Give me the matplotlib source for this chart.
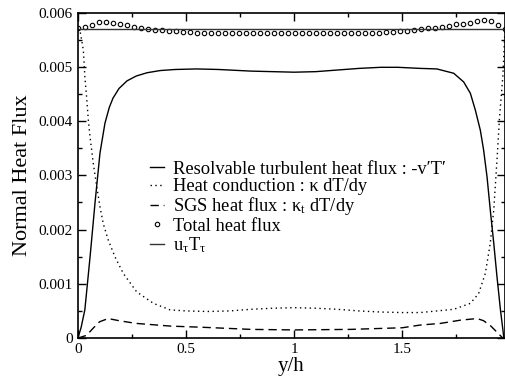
import numpy as np
import matplotlib
matplotlib.use("Agg")
import matplotlib.pyplot as plt
from matplotlib.ticker import MultipleLocator, FuncFormatter

plt.rcParams['font.family'] = ['Liberation Serif', 'DejaVu Serif']
plt.rcParams['mathtext.fontset'] = 'custom'
plt.rcParams['mathtext.rm'] = 'Liberation Serif'
plt.rcParams['mathtext.it'] = 'Liberation Serif:italic'

# resolvable turbulent heat flux -v'T'
res_y = [0.0, 0.015, 0.032, 0.056, 0.079, 0.102, 0.125, 0.145, 0.162, 0.19, 0.227,
         0.27, 0.32, 0.38, 0.45, 0.55, 0.65, 0.8, 0.9, 1.0, 1.1, 1.2, 1.3, 1.4,
         1.48, 1.583, 1.66, 1.738, 1.784, 1.815, 1.838, 1.861, 1.876, 1.892,
         1.907, 1.923, 1.938, 1.954, 1.97]
res_q = [0.0, 0.0002, 0.00052, 0.00149, 0.00249, 0.00341, 0.00396, 0.00425, 0.00442,
         0.0046, 0.00474, 0.00483, 0.00489, 0.00493, 0.00495, 0.00496, 0.00495,
         0.00492, 0.00491, 0.0049, 0.00491, 0.00494, 0.00497, 0.00499, 0.00499,
         0.00497, 0.00496, 0.00488, 0.00472, 0.00451, 0.0042, 0.00383, 0.00347,
         0.00297, 0.00236, 0.00175, 0.00113, 0.00052, 0.0]

# molecular heat conduction kappa dT/dy
cond_y = [0.0, 0.009, 0.025, 0.032, 0.04, 0.048, 0.056, 0.071, 0.087, 0.102, 0.117,
          0.14, 0.171, 0.21, 0.272, 0.349, 0.426, 0.5, 0.6, 0.7, 0.8, 0.9, 1.0,
          1.1, 1.2, 1.3, 1.4, 1.5, 1.583, 1.66, 1.738, 1.815, 1.853, 1.884, 1.907,
          1.923, 1.938, 1.95, 1.965, 1.975]
cond_q = [0.0057, 0.00568, 0.00531, 0.00482, 0.00445, 0.00402, 0.00371, 0.00322,
          0.00279, 0.00242, 0.00211, 0.00181, 0.0015, 0.00119, 0.00085, 0.00064,
          0.00052, 0.0005, 0.00049, 0.0005, 0.00053, 0.00055, 0.00056, 0.00055,
          0.00053, 0.0005, 0.00048, 0.00047, 0.00047, 0.0005, 0.00053, 0.00064,
          0.00082, 0.00119, 0.00175, 0.00236, 0.00328, 0.00408, 0.00482, 0.0057]

# SGS heat flux kappa_t dT/dy
sgs_y = [0.0, 0.04, 0.07, 0.1, 0.14, 0.19, 0.27, 0.43, 0.57, 0.8, 1.0, 1.26, 1.5,
         1.583, 1.676, 1.769, 1.846, 1.876, 1.91, 1.94, 1.965]
sgs_q = [0.0, 0.00005, 0.00018, 0.0003, 0.00036, 0.00032, 0.00027, 0.00022, 0.0002,
         0.00016, 0.00015, 0.00016, 0.00019, 0.00024, 0.00027, 0.00033, 0.00036,
         0.00032, 0.00022, 0.0001, 0.0]

# total heat flux on the grid points
total_q = [0.00571, 0.00573, 0.00577, 0.00582, 0.00582, 0.00581, 0.00579, 0.00577,
           0.00573, 0.00571, 0.0057, 0.00568, 0.00567, 0.00566, 0.00565, 0.00564,
           0.00564, 0.00563, 0.00563, 0.00562, 0.00562, 0.00562, 0.00562, 0.00562,
           0.00562, 0.00562, 0.00562, 0.00562, 0.00562, 0.00562, 0.00562, 0.00562,
           0.00562, 0.00562, 0.00562, 0.00562, 0.00562, 0.00562, 0.00562, 0.00562,
           0.00562, 0.00562, 0.00562, 0.00563, 0.00564, 0.00564, 0.00565, 0.00566,
           0.00567, 0.00569, 0.00571, 0.00572, 0.00573, 0.00576, 0.00578, 0.00579,
           0.00581, 0.00585, 0.00587, 0.00585, 0.00577, 0.0057]
y_max = 1.975
total_y = np.linspace(0, y_max, len(total_q))

utau_ttau = 0.0057

fig = plt.figure(figsize=(5.06, 3.79), dpi=100)
ax = fig.add_axes([0.154, 0.108, 0.844, 0.859])

ax.plot(res_y, res_q, color='black', lw=1.0,
        label="Resolvable turbulent heat flux : -v\u2032T\u2032")
ax.plot(cond_y, cond_q, color='black', lw=1.0, linestyle=(0, (1, 2.5)),
        label="Heat conduction : \u03ba dT/dy")
ax.plot(sgs_y, sgs_q, color='black', lw=1.0, linestyle=(0, (6, 3.5)),
        label="SGS heat flux : \u03ba$_\\mathrm{t}$ dT/dy")
ax.plot(total_y, total_q, linestyle='none', marker='o', markersize=3.2,
        markerfacecolor='white', markeredgecolor='black', markeredgewidth=0.8,
        label="Total heat flux")
ax.axhline(utau_ttau, color='#333333', lw=1.0, label="u$_\\mathrm{\u03c4}$T$_\\mathrm{\u03c4}$")

ax.set_xlim(0, y_max)
ax.set_ylim(0, 0.006)
ax.xaxis.set_major_locator(MultipleLocator(0.5))
ax.xaxis.set_minor_locator(MultipleLocator(0.25))
ax.yaxis.set_major_locator(MultipleLocator(0.001))
ax.yaxis.set_minor_locator(MultipleLocator(0.0005))
fmt = FuncFormatter(lambda v, p: '%g' % round(v, 6))
ax.xaxis.set_major_formatter(fmt)
ax.yaxis.set_major_formatter(fmt)
ax.tick_params(which='both', direction='in', top=True, right=True, labelsize=11, width=1)
ax.tick_params(which='major', length=6)
ax.tick_params(which='minor', length=3)
for s in ax.spines.values():
    s.set_linewidth(1.2)

ax.set_xlabel('y/h', fontsize=15, labelpad=1)
ax.set_ylabel('Normal Heat Flux', fontsize=16, labelpad=5)

ax.legend(loc='upper left', bbox_to_anchor=(0.169, 0.545), frameon=False, fontsize=13.3,
          handlelength=0.75, handletextpad=0.5, labelspacing=0.02, numpoints=1,
          borderaxespad=0, borderpad=0)

fig.savefig('out.png', dpi=100)
